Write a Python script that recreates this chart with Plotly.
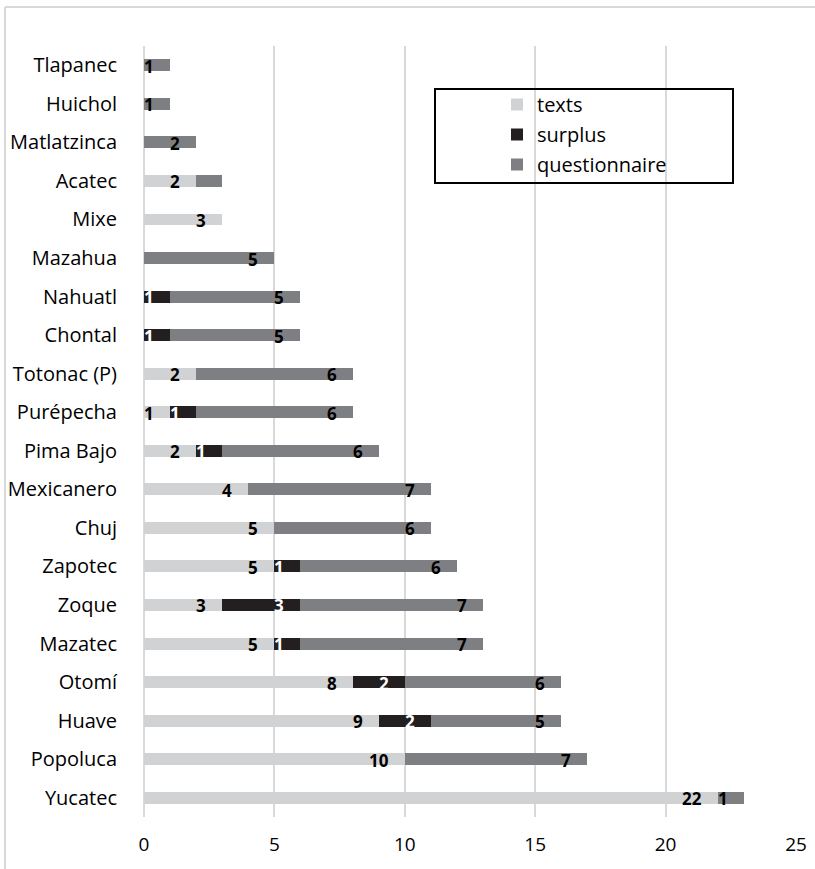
import plotly.graph_objects as go

# Languages, listed top to bottom
languages = ["Tlapanec", "Huichol", "Matlatzinca", "Acatec", "Mixe", "Mazahua",
             "Nahuatl", "Chontal", "Totonac (P)", "Purépecha", "Pima Bajo",
             "Mexicanero", "Chuj", "Zapotec", "Zoque", "Mazatec", "Otomí",
             "Huave", "Popoluca", "Yucatec"]

texts = [0, 0, 0, 2, 3, 0, 0, 0, 2, 1, 2, 4, 5, 5, 3, 5, 8, 9, 10, 22]
surplus = [0, 0, 0, 0, 0, 0, 1, 1, 0, 1, 1, 0, 0, 1, 3, 1, 2, 2, 0, 0]
questionnaire = [1, 1, 2, 1, 0, 5, 5, 5, 6, 6, 6, 7, 6, 6, 7, 7, 6, 5, 7, 1]

# segments whose value label is left off
unlabelled = {("questionnaire", "Acatec")}

x_ticks = [0, 5, 10, 15, 20, 25]

series = [
    ("texts", texts, "#d1d2d4", "#000000"),
    ("surplus", surplus, "#231f20", "#ffffff"),
    ("questionnaire", questionnaire, "#7e7f82", "#000000"),
]

FONT = "Open Sans"

fig = go.Figure()
annotations = []
base = [0] * len(languages)
for name, vals, color, label_color in series:
    fig.add_trace(go.Bar(
        y=languages, x=vals, name=name, orientation="h",
        marker=dict(color=color, line=dict(width=0)),
        legendgroup=name, hoverinfo="x+y+name",
    ))
    for i, (lang, v) in enumerate(zip(languages, vals)):
        end = base[i] + v
        if v and (name, lang) not in unlabelled:
            annotations.append(dict(
                x=end, y=lang, xref="x", yref="y", text=f"<b>{v}</b>",
                showarrow=False, xanchor="right", yanchor="middle",
                xshift=-14, yshift=-1,
                font=dict(family=FONT, size=17, color=label_color),
            ))
        base[i] = end

# Plot area geometry (pixels) used for paper-referenced decorations
W, H = 815, 869
L, R, T, B = 144, 19, 46, 52
pw, ph = W - L - R, H - T - B


def px(xp):
    return (xp - L) / pw


def py(yp):
    return (H - B - yp) / ph


shapes = [
    # outer chart border (top and left edges)
    dict(type="line", xref="paper", yref="paper", x0=px(5), x1=px(830),
         y0=py(7), y1=py(7), line=dict(color="#d9d9d9", width=2)),
    dict(type="line", xref="paper", yref="paper", x0=px(5), x1=px(5),
         y0=py(7), y1=py(880), line=dict(color="#d9d9d9", width=2)),
    # legend frame
    dict(type="rect", xref="paper", yref="paper", x0=px(435), x1=px(733),
         y0=py(183), y1=py(89), line=dict(color="#000000", width=2),
         fillcolor="rgba(0,0,0,0)"),
]

fig.update_layout(
    width=W, height=H,
    margin=dict(l=L, r=R, t=T, b=B, pad=0, autoexpand=False),
    barmode="stack", bargap=0.69,
    plot_bgcolor="white", paper_bgcolor="white",
    font=dict(family=FONT, size=20, color="#000000"),
    showlegend=True,
    legend=dict(
        x=px(497), y=py(85), xanchor="left", yanchor="top",
        traceorder="grouped", tracegroupgap=1,
        bgcolor="rgba(0,0,0,0)", borderwidth=0,
        font=dict(family=FONT, size=20, color="#000000"),
    ),
    annotations=annotations,
    shapes=shapes,
    xaxis=dict(
        range=[0, 25], tickvals=x_ticks, ticktext=[str(t) for t in x_ticks],
        showgrid=True, gridcolor="#d9d9d9", gridwidth=2,
        zeroline=True, zerolinecolor="#d9d9d9", zerolinewidth=2,
        showline=False, ticks="", ticklabelstandoff=14, automargin=False,
        tickfont=dict(family=FONT, size=19),
    ),
    yaxis=dict(
        categoryorder="array", categoryarray=languages, autorange="reversed",
        showgrid=False, zeroline=False, showline=False, ticks="",
        ticklabelstandoff=26, automargin=False,
        tickfont=dict(family=FONT, size=20),
    ),
)

fig.write_html("out.html")
